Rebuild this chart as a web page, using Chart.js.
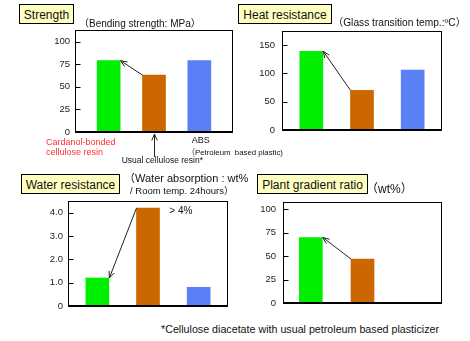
<!DOCTYPE html>
<html>
<head>
<meta charset="utf-8">
<script src="https://cdn.jsdelivr.net/npm/chart.js@4.4.0/dist/chart.umd.min.js"></script>
<style>
  body { margin: 0; background: #fff; }
  #page { position: relative; width: 470px; height: 341px; overflow: hidden; background: #fff;
          font-family: 'Liberation Sans', Arial, 'Noto Sans CJK JP', sans-serif; color: #111; }
  canvas { position: absolute; }
  .title { position: absolute; box-sizing: border-box; height: 20px; border: 1px solid #000;
           background: #ffffc0; font-size: 12px; line-height: 18px; padding-top: 1px;
           text-align: center; white-space: nowrap; }
  .txt { position: absolute; white-space: nowrap; line-height: 1; }
  .fw { font-family: 'Noto Sans CJK JP', sans-serif; }
</style>
</head>
<body>
<div id="page">
  <div class="title" style="left:19px; top:4px; width:55px;">Strength</div>
  <div class="title" style="left:238px; top:4px; width:94px;">Heat resistance</div>
  <div class="title" style="left:21px; top:174px; width:99px;">Water resistance</div>
  <div class="title" style="left:257px; top:174px; width:111px;">Plant gradient ratio</div>

  <div class="txt" style="left:79px; top:17.5px; font-size:10px;"><span class="fw">（</span>Bending strength: MPa<span class="fw">）</span></div>
  <div class="txt" style="left:333px; top:17.3px; font-size:10.2px;"><span class="fw">（</span>Glass transition temp.:ºC<span class="fw">）</span></div>
  <div class="txt" style="left:124px; top:172.4px; font-size:11px;"><span class="fw">（</span>Water absorption : wt%</div>
  <div class="txt" style="left:130px; top:186.3px; font-size:9.5px;">/ Room temp. 24hours<span class="fw">）</span></div>
  <div class="txt" style="left:366px; top:181.5px; font-size:12px;"><span class="fw">（</span>wt%<span class="fw">）</span></div>

  <div class="txt" style="left:46px; top:138.1px; font-size:9px; color:#ff3030;">Cardanol-bonded</div>
  <div class="txt" style="left:46px; top:148.4px; font-size:9px; color:#ff3030;">cellulose resin</div>
  <div class="txt" style="left:121.7px; top:156.1px; font-size:8.5px;">Usual cellulose resin*</div>
  <div class="txt" style="left:191.7px; top:136.4px; font-size:9px;">ABS</div>
  <div class="txt" style="left:187.2px; top:148.4px; font-size:7.8px;"><span class="fw">（</span>Petroleum&nbsp; based plastic)</div>
  <div class="txt" style="left:169.3px; top:206px; font-size:10px;">&gt; 4%</div>
  <div class="txt" style="left:161px; top:324.2px; font-size:10.7px;">*Cellulose diacetate with usual petroleum based plasticizer</div>
</div>
<script>
const categories = ['Cardanol-bonded cellulose resin', 'Usual cellulose resin*', 'ABS'];
const barColors = ['#00ee00', '#cc6600', '#5b7ff5'];

const strengthValues = [79, 63, 79];
const strengthTicks = [0, 25, 50, 75, 100];
const strengthTickLabels = ['0', '25', '50', '75', '100'];

const heatValues = [139, 70, 106];
const heatTicks = [0, 50, 100, 150];
const heatTickLabels = ['0', '50', '100', '150'];

const waterValues = [1.2, 4.2, 0.8];
const waterTicks = [0, 1, 2, 3, 4];
const waterTickLabels = ['0', '1.0', '2.0', '3.0', '4.0'];

const plantValues = [70, 47, null];
const plantTicks = [0, 25, 50, 75, 100];
const plantTickLabels = ['0', '25', '50', '75', '100'];

// box = frame of each small plot on the page, inset = gap between frame and category area
const panels = [
    { values: strengthValues, ticks: strengthTicks, labels: strengthTickLabels, yMax: 113,
      box: { l: 75, t: 30, r: 233, b: 132 }, inset: 11, gap: 5, padBottom: 30,
      arrows: [{ from: 1, to: 0 }], upArrow: 1 },
    { values: heatValues, ticks: heatTicks, labels: heatTickLabels, yMax: 175,
      box: { l: 282, t: 31, r: 442, b: 130 }, inset: 4, gap: 7, padBottom: 6,
      arrows: [{ from: 1, to: 0 }] },
    { values: waterValues, ticks: waterTicks, labels: waterTickLabels, yMax: 4.5,
      box: { l: 68, t: 201, r: 228, b: 306 }, inset: 4, gap: 5, padBottom: 6,
      arrows: [{ from: 1, to: 0 }] },
    { values: plantValues, ticks: plantTicks, labels: plantTickLabels, yMax: 108,
      box: { l: 283, t: 202, r: 442, b: 303 }, inset: 2, gap: 7, padBottom: 6,
      arrows: [{ from: 1, to: 0 }] }
];

function drawArrow(ctx, x1, y1, x2, y2) {
    const ang = Math.atan2(y2 - y1, x2 - x1);
    const len = 7, spread = 0.4;
    ctx.beginPath();
    ctx.moveTo(x1, y1);
    ctx.lineTo(x2, y2);
    ctx.moveTo(x2 - len * Math.cos(ang - spread), y2 - len * Math.sin(ang - spread));
    ctx.lineTo(x2, y2);
    ctx.lineTo(x2 - len * Math.cos(ang + spread), y2 - len * Math.sin(ang + spread));
    ctx.stroke();
}

function line(ctx, x1, y1, x2, y2) {
    ctx.beginPath();
    ctx.moveTo(x1, y1);
    ctx.lineTo(x2, y2);
    ctx.stroke();
}

// frame, inner tick marks and arrows, one plugin per panel
function makeFramePlugin(p) {
    return {
        id: 'panelFrame',
        afterDraw(chart) {
            const ctx = chart.ctx;
            const a = chart.chartArea;
            const yScale = chart.scales.y;
            const left = Math.round(a.left - p.inset) + 0.5;
            const right = Math.round(a.right + p.inset) - 0.5;
            const top = Math.round(a.top) + 0.5;
            const bottom = Math.round(a.bottom);
            ctx.save();
            ctx.strokeStyle = '#000000';
            ctx.lineWidth = 1;
            ctx.strokeRect(left, top, right - left, bottom - top);
            ctx.lineWidth = 2;
            line(ctx, left - 0.5, bottom, right + 0.5, bottom);

            ctx.lineWidth = 1;
            p.ticks.forEach(v => {
                if (v === 0) return;
                const y = Math.round(yScale.getPixelForValue(v)) + 0.5;
                line(ctx, left, y, left + 5, y);
            });

            const bars = chart.getDatasetMeta(0).data;
            ctx.strokeStyle = '#222222';
            p.arrows.forEach(ar => {
                const f = bars[ar.from].getProps(['x', 'y', 'width'], true);
                const t = bars[ar.to].getProps(['x', 'y', 'width'], true);
                drawArrow(ctx, f.x - f.width / 2, f.y, t.x + t.width / 2 + 0.5, t.y);
            });
            if (p.upArrow !== undefined) {
                const b = bars[p.upArrow].getProps(['x'], true);
                const x = Math.round(b.x) + 0.5;
                drawArrow(ctx, x, a.bottom + 25, x, a.bottom + 2);
            }
            ctx.restore();
        }
    };
}

const page = document.getElementById('page');

panels.forEach(p => {
    const canvas = document.createElement('canvas');
    const w = p.box.r - p.box.l + 45 + 6;
    const h = p.box.b - p.box.t + 6 + p.padBottom;
    canvas.width = w;
    canvas.height = h;
    canvas.style.width = w + 'px';
    canvas.style.height = h + 'px';
    canvas.style.left = (p.box.l - 45) + 'px';
    canvas.style.top = (p.box.t - 6) + 'px';
    page.insertBefore(canvas, page.firstChild);

    new Chart(canvas, {
        type: 'bar',
        data: {
            labels: categories,
            datasets: [{
                data: p.values,
                backgroundColor: barColors,
                barThickness: 23,
                borderWidth: 0
            }]
        },
        options: {
            responsive: false,
            animation: false,
            devicePixelRatio: 1,
            layout: { autoPadding: false, padding: { left: 0, top: 6, right: 6 + p.inset, bottom: p.padBottom } },
            plugins: {
                legend: { display: false },
                tooltip: { enabled: false }
            },
            scales: {
                x: { display: false },
                y: {
                    min: 0,
                    max: p.yMax,
                    grid: { display: false, drawTicks: false },
                    border: { display: false },
                    afterFit: s => {
                        s.width = 45 + p.inset;
                        s.paddingTop = 0;
                        s.paddingBottom = 0;
                    },
                    afterBuildTicks: s => { s.ticks = p.ticks.map(v => ({ value: v })); },
                    ticks: {
                        padding: p.gap + p.inset,
                        color: '#222',
                        font: { family: "'Liberation Sans', Arial, sans-serif", size: 9.5 },
                        callback: (v, i) => p.labels[i]
                    }
                }
            }
        },
        plugins: [makeFramePlugin(p)]
    });
});
</script>
</body>
</html>
